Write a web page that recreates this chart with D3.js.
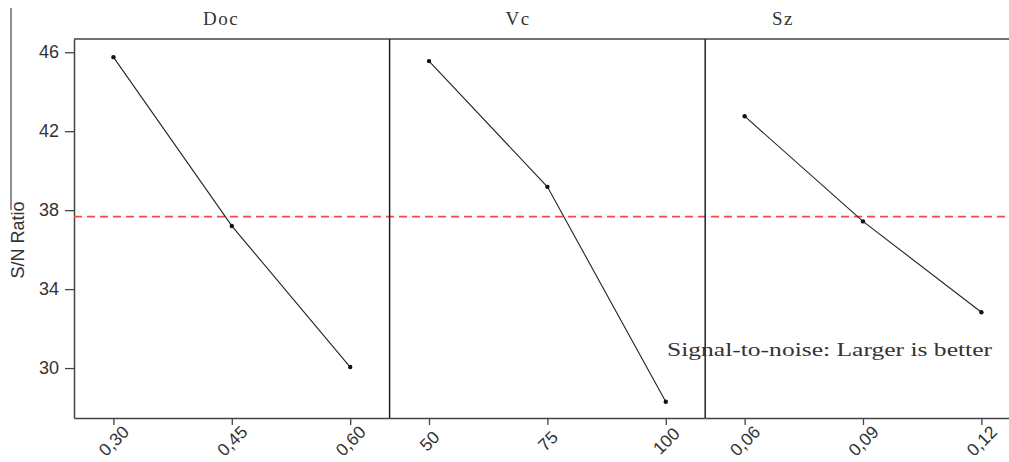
<!DOCTYPE html>
<html>
<head>
<meta charset="utf-8">
<script src="https://cdn.jsdelivr.net/npm/d3@7"></script>
<style>
  body { margin: 0; background: #fff; }
  svg { display: block; }
</style>
</head>
<body>
<div id="chart"></div>
<script>
// main effects plot for S/N ratios
const factors = ["Doc", "Vc", "Sz"];
const docLevels = ["0,30", "0,45", "0,60"];
const vcLevels = ["50", "75", "100"];
const szLevels = ["0,06", "0,09", "0,12"];
const docSN = [45.75, 37.2, 30.05];
const vcSN = [45.55, 39.18, 28.29];
const szSN = [42.76, 37.43, 32.83];
const yTicks = [30, 34, 38, 42, 46];
const note = "Signal-to-noise: Larger is better";

const levels = [docLevels, vcLevels, szLevels];
const values = [docSN, vcSN, szSN];

const width = 1009;
const height = 462;
const plotLeft = 74;
const plotTop = 39;
const plotBottom = 418;
const panelW = 315.6;
const titleX = [221, 518, 783];

const svg = d3.select("#chart").append("svg")
  .attr("width", width)
  .attr("height", height);

const y = d3.scaleLinear()
  .domain([27.47, 46.67])
  .range([plotBottom, plotTop]);

const grand = d3.mean(values.flat());

// stray frame edge at far left
svg.append("line")
  .attr("x1", 11).attr("x2", 11)
  .attr("y1", 8).attr("y2", 210)
  .attr("stroke", "#444")
  .attr("stroke-width", 1.2);

// top frame line
svg.append("line")
  .attr("x1", plotLeft).attr("x2", width)
  .attr("y1", plotTop).attr("y2", plotTop)
  .attr("stroke", "#444")
  .attr("stroke-width", 1.5);

// y axis
const yAxis = svg.append("g")
  .attr("transform", `translate(${plotLeft},0)`)
  .call(d3.axisLeft(y).tickValues(yTicks).tickSize(9).tickSizeOuter(0).tickPadding(6));
yAxis.select(".domain").attr("stroke", "#444").attr("stroke-width", 1.5);
yAxis.selectAll(".tick line").attr("stroke", "#444").attr("stroke-width", 1.3);
yAxis.selectAll(".tick text")
  .attr("font-family", "Liberation Sans, Arial, sans-serif")
  .attr("font-size", 18)
  .attr("fill", "#333");

svg.append("text")
  .attr("transform", "translate(24,240) rotate(-90)")
  .attr("text-anchor", "middle")
  .attr("font-family", "Liberation Sans, Arial, sans-serif")
  .attr("font-size", 18)
  .attr("fill", "#333")
  .text("S/N Ratio");

// mean reference line
svg.append("line")
  .attr("x1", plotLeft).attr("x2", width)
  .attr("y1", y(grand)).attr("y2", y(grand))
  .attr("stroke", "#f24a4a")
  .attr("stroke-width", 1.8)
  .attr("stroke-dasharray", "8,5");

factors.forEach((f, i) => {
  const x0 = plotLeft + i * panelW;
  const x = d3.scalePoint()
    .domain(levels[i])
    .range([x0, x0 + panelW])
    .padding(0.333);

  const g = svg.append("g");

  if (i > 0) {
    g.append("line")
      .attr("x1", x0).attr("x2", x0)
      .attr("y1", plotTop).attr("y2", plotBottom)
      .attr("stroke", "#222")
      .attr("stroke-width", 1.5);
  }

  g.append("text")
    .attr("x", titleX[i])
    .attr("y", 25)
    .attr("text-anchor", "middle")
    .attr("font-family", "Liberation Serif, Times New Roman, serif")
    .attr("font-size", 19)
    .attr("letter-spacing", 1.5)
    .attr("fill", "#333")
    .text(f);

  const xAxis = g.append("g")
    .attr("transform", `translate(0,${plotBottom})`)
    .call(d3.axisBottom(x).tickSize(7).tickSizeOuter(0));
  xAxis.select(".domain").attr("stroke", "#444").attr("stroke-width", 1.5);
  xAxis.selectAll(".tick line").attr("stroke", "#444").attr("stroke-width", 1.3);
  xAxis.selectAll(".tick text")
    .attr("font-family", "Liberation Sans, Arial, sans-serif")
    .attr("font-size", 17.5)
    .attr("fill", "#333")
    .attr("text-anchor", "middle")
    .attr("dy", null)
    .attr("y", 0)
    .attr("transform", "translate(0,23) rotate(-45)")
    .attr("dominant-baseline", "central");

  const pts = levels[i].map((lv, j) => ({ lv, v: values[i][j] }));

  g.append("path")
    .datum(pts)
    .attr("fill", "none")
    .attr("stroke", "#222")
    .attr("stroke-width", 1.1)
    .attr("d", d3.line().x((d) => x(d.lv)).y((d) => y(d.v)));

  g.selectAll("circle")
    .data(pts)
    .enter()
    .append("circle")
    .attr("cx", (d) => x(d.lv))
    .attr("cy", (d) => y(d.v))
    .attr("r", 2.2)
    .attr("fill", "#111");
});

svg.append("text")
  .attr("x", 667)
  .attr("y", 356)
  .attr("font-family", "Liberation Serif, Times New Roman, serif")
  .attr("font-size", 19)
  .attr("textLength", 325)
  .attr("lengthAdjust", "spacingAndGlyphs")
  .attr("fill", "#333")
  .text(note);
</script>
</body>
</html>
